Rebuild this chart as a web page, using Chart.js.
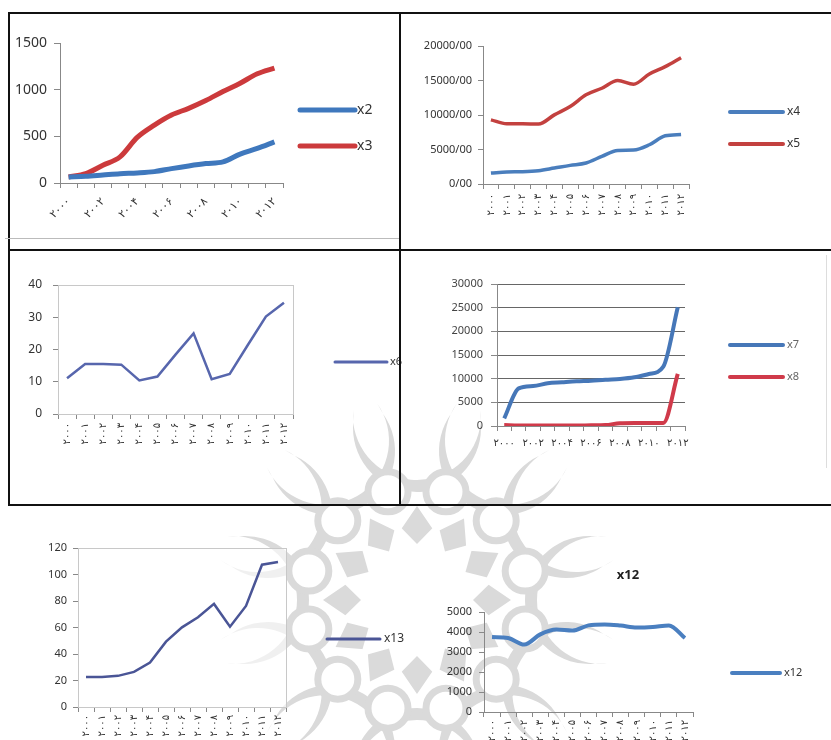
<!DOCTYPE html>
<html>
<head>
<meta charset="utf-8">
<script src="https://cdn.jsdelivr.net/npm/chart.js@4/dist/chart.umd.min.js"></script>
<style>
  body { margin: 0; background: #fff; width: 831px; height: 740px; overflow: hidden; position: relative; }
  canvas { position: absolute; }
  #bg { left: 0; top: 0; z-index: 0; }
  .rule { position: absolute; background: #111; z-index: 5; }
</style>
</head>
<body>
<canvas id="bg" width="831" height="740"></canvas>
<canvas id="c1" width="390" height="222" style="left:9px;top:15px"></canvas>
<canvas id="c2" width="429" height="233" style="left:402px;top:15px"></canvas>
<canvas id="c3" width="400" height="251" style="left:10px;top:252px"></canvas>
<canvas id="c4" width="425" height="250" style="left:402px;top:252px"></canvas>
<canvas id="c5" width="410" height="232" style="left:10px;top:508px"></canvas>
<canvas id="c6" width="411" height="180" style="left:420px;top:560px"></canvas>

<!-- panel frame -->
<div class="rule" style="left:8px;top:12px;width:823px;height:2px"></div>
<div class="rule" style="left:8px;top:12px;width:2px;height:494px"></div>
<div class="rule" style="left:399px;top:12px;width:2px;height:494px"></div>
<div class="rule" style="left:8px;top:249px;width:823px;height:2px"></div>
<div class="rule" style="left:8px;top:504px;width:823px;height:2px"></div>
<div class="rule" style="left:5px;top:238px;width:394px;height:1px;background:#bbb"></div>
<div class="rule" style="left:826px;top:255px;width:1px;height:213px;background:#ddd"></div>

<script>
// Years 2000–2012 in Persian digits
const years = ['۲۰۰۰','۲۰۰۱','۲۰۰۲','۲۰۰۳','۲۰۰۴','۲۰۰۵','۲۰۰۶','۲۰۰۷','۲۰۰۸','۲۰۰۹','۲۰۱۰','۲۰۱۱','۲۰۱۲'];

const x2  = [65, 72, 86, 100, 108, 122, 154, 183, 208, 226, 309, 370, 441];
const x3  = [65, 100, 190, 280, 488, 620, 728, 800, 883, 980, 1069, 1170, 1231];
const x4  = [1590, 1740, 1780, 1930, 2310, 2700, 3040, 4000, 4870, 4920, 5690, 6990, 7180];
const x5  = [9300, 8720, 8720, 8680, 10020, 11230, 12920, 13880, 14990, 14460, 15950, 17010, 18310];
const x6  = [11.1, 15.5, 15.5, 15.3, 10.4, 11.6, 18.4, 25.0, 10.8, 12.4, 21.4, 30.2, 34.5];
const x7  = [1620, 7960, 8450, 9010, 9230, 9440, 9580, 9790, 9930, 10280, 10990, 12540, 25070];
const x8  = [200, 100, 100, 100, 100, 100, 150, 200, 600, 650, 650, 650, 11000];
const x13 = [22.7, 22.7, 23.5, 26.5, 33.6, 49.3, 60.1, 67.7, 77.8, 60.6, 76.3, 107.4, 109.4];
const x12 = [3750, 3700, 3370, 3880, 4120, 4070, 4330, 4380, 4320, 4220, 4250, 4330, 3700];

const FONT = '"Noto Sans", "DejaVu Sans", sans-serif';

// Pale grey rosette emblem behind the lower panels
(function drawEmblem() {
  const ctx = document.getElementById('bg').getContext('2d');
  const cx = 417, cy = 600, N = 12, step = Math.PI * 2 / N;
  const grey = 'rgb(218,218,218)';

  function star(rOut, rIn, rot) {
    ctx.beginPath();
    for (let k = 0; k < N; k++) {
      const a = rot + k * step, b = a + step / 2;
      ctx.lineTo(cx + rOut * Math.cos(a), cy + rOut * Math.sin(a));
      ctx.lineTo(cx + rIn * Math.cos(b), cy + rIn * Math.sin(b));
    }
    ctx.closePath();
    ctx.fill();
  }

  // outer crescents, hollow side facing outwards
  ctx.fillStyle = grey;
  const D = 172, R = 64, d = 12;
  const phi = Math.atan2(Math.sqrt(R * R - (d / 2) * (d / 2)), d / 2);
  for (let k = 0; k < N; k++) {
    const u = -Math.PI / 2 + k * step;
    const px = cx + D * Math.cos(u), py = cy + D * Math.sin(u);
    const qx = px + d * Math.cos(u), qy = py + d * Math.sin(u);
    ctx.beginPath();
    ctx.arc(px, py, R, u + phi, u + 2 * Math.PI - phi);
    ctx.arc(qx, qy, R, u + 2 * Math.PI - phi, u + phi, true);
    ctx.closePath();
    ctx.fill();
  }

  // petalled band round a white star
  ctx.fillStyle = grey;
  star(94, 70, -Math.PI / 2);
  ctx.fillStyle = '#fff';
  star(80, 56, -Math.PI / 2 + step / 2);

  // ring of small circles
  ctx.strokeStyle = grey;
  ctx.lineWidth = 7;
  for (let k = 0; k < N; k++) {
    const a = -Math.PI / 2 + step / 2 + k * step;
    const rx = cx + 112 * Math.cos(a), ry = cy + 112 * Math.sin(a);
    ctx.fillStyle = '#fff';
    ctx.beginPath();
    ctx.arc(rx, ry, 20, 0, Math.PI * 2);
    ctx.fill();
    ctx.stroke();
  }
})();

// Legend drawn beside the plot (one short line and a label per dataset) and an optional title
const sideLegend = {
  id: 'sideLegend',
  afterDraw(chart, args, opts) {
    const ctx = chart.ctx;
    ctx.save();
    if (opts.title) {
      ctx.fillStyle = '#222';
      ctx.font = 'bold 13px ' + FONT;
      ctx.textAlign = 'center';
      ctx.textBaseline = 'middle';
      ctx.fillText(opts.title.text, opts.title.x, opts.title.y);
    }
    chart.data.datasets.forEach((ds, i) => {
      const it = opts.items && opts.items[i];
      if (!it) return;
      ctx.strokeStyle = ds.borderColor;
      ctx.lineWidth = opts.lineWidth || ds.borderWidth;
      ctx.lineCap = 'round';
      ctx.beginPath();
      ctx.moveTo(it.x1, it.y);
      ctx.lineTo(it.x2, it.y);
      ctx.stroke();
      ctx.fillStyle = opts.color || '#333';
      ctx.font = (opts.size || 12) + 'px ' + FONT;
      ctx.textBaseline = 'middle';
      ctx.textAlign = 'left';
      ctx.fillText(ds.label, it.x2 + (opts.gap || 3), it.y);
    });
    ctx.restore();
  }
};

// Plot background (drawn before the grid) and an optional thin frame
const plotBox = {
  id: 'plotBox',
  beforeDraw(chart, args, opts) {
    if (!opts.fill) return;
    const a = chart.chartArea, ctx = chart.ctx;
    ctx.save();
    ctx.fillStyle = opts.fill;
    ctx.fillRect(a.left, a.top, a.right - a.left, a.bottom - a.top);
    ctx.restore();
  },
  beforeDatasetsDraw(chart, args, opts) {
    if (!opts.color) return;
    const a = chart.chartArea, ctx = chart.ctx;
    ctx.save();
    ctx.strokeStyle = opts.color;
    ctx.lineWidth = 1;
    ctx.strokeRect(a.left + 0.5, a.top + 0.5, a.right - a.left, a.bottom - a.top);
    ctx.restore();
  }
};

function makeChart(id, o) {
  return new Chart(document.getElementById(id), {
    type: 'line',
    data: { labels: years, datasets: o.datasets },
    plugins: [sideLegend, plotBox],
    options: {
      responsive: false,
      animation: false,
      layout: { autoPadding: false, padding: o.padding },
      elements: { point: { radius: 0 } },
      plugins: {
        legend: { display: false },
        tooltip: { enabled: false },
        sideLegend: o.legend,
        plotBox: { color: o.box || null, fill: o.fill || null }
      },
      scales: {
        x: {
          type: 'category',
          offset: true,
          grid: { offset: true, drawOnChartArea: false, tickLength: 5, color: o.axisColor || '#888' },
          border: { color: o.axisColor || '#888' },
          ticks: {
            autoSkip: false,
            minRotation: o.xRot, maxRotation: o.xRot,
            padding: o.xPad,
            font: { family: FONT, size: o.xFont },
            color: '#333',
            callback: (v, i) => (o.xEvery ? (i % o.xEvery === 0 ? years[i] : '') : years[i])
          },
          afterFit: s => { s.height = o.xH; }
        },
        y: {
          min: o.yMin, max: o.yMax,
          ticks: {
            stepSize: o.yStep,
            padding: o.yPad,
            font: { family: FONT, size: o.yFont },
            color: o.yColor || '#333',
            callback: o.yFmt || (v => String(v))
          },
          grid: {
            drawOnChartArea: !!o.yGrid,
            color: o.yGrid || '#888',
            tickLength: o.yTick || 5,
            tickColor: o.axisColor || '#888'
          },
          border: { color: o.axisColor || '#888' },
          afterFit: s => { s.width = o.yW; }
        }
      }
    }
  });
}

const BLUE = '#4a7ebd', RED = '#c3413f';
const SMOOTH = { tension: 0.4, cubicInterpolationMode: 'monotone' };

// x2, x3
makeChart('c1', {
  datasets: [
    { label: 'x2', data: x2, borderColor: '#3f78bd', borderWidth: 5, ...SMOOTH },
    { label: 'x3', data: x3, borderColor: '#cc3a3c', borderWidth: 5, ...SMOOTH }
  ],
  padding: { left: 0, right: 116, top: 28, bottom: 2 },
  yW: 51, xH: 52, yMin: 0, yMax: 1500, yStep: 500, yFont: 14, yPad: 7, yTick: 6,
  xRot: 45, xEvery: 2, xFont: 11, xPad: 7,
  legend: { items: [{ x1: 291, x2: 346, y: 95 }, { x1: 291, x2: 346, y: 131 }], size: 14, lineWidth: 5, gap: 2 }
});

// x4, x5
makeChart('c2', {
  datasets: [
    { label: 'x4', data: x4, borderColor: BLUE, borderWidth: 3.5, ...SMOOTH },
    { label: 'x5', data: x5, borderColor: RED, borderWidth: 3.5, ...SMOOTH }
  ],
  padding: { left: 0, right: 142, top: 31, bottom: 6 },
  yW: 81, xH: 58, yMin: 0, yMax: 20000, yStep: 5000, yFont: 11, yPad: 6,
  yFmt: v => v + '/00',
  xRot: 90, xFont: 10, xPad: 5,
  legend: { items: [{ x1: 328, x2: 381, y: 97 }, { x1: 328, x2: 381, y: 129 }], size: 12, lineWidth: 4, gap: 4 }
});

// x6
makeChart('c3', {
  datasets: [
    { label: 'x6', data: x6, borderColor: '#5766ad', borderWidth: 2.5, tension: 0 }
  ],
  padding: { left: 0, right: 117, top: 33, bottom: 4 },
  yW: 48, xH: 85, yMin: 0, yMax: 40, yStep: 10, yFont: 12, yPad: 11,
  xRot: 90, xFont: 10, xPad: 4,
  box: '#c8c8c8', fill: 'rgba(255,255,255,0.85)',
  legend: { items: [{ x1: 325, x2: 377, y: 110 }], size: 11, lineWidth: 3, gap: 3 }
});

// x7, x8
makeChart('c4', {
  datasets: [
    { label: 'x7', data: x7, borderColor: '#4677b8', borderWidth: 4, ...SMOOTH },
    { label: 'x8', data: x8, borderColor: '#d03a4a', borderWidth: 4, ...SMOOTH }
  ],
  padding: { left: 0, right: 142, top: 32, bottom: 6 },
  yW: 95, xH: 70, yMin: 0, yMax: 30000, yStep: 5000, yFont: 11, yPad: 8, yTick: 6,
  yGrid: '#666', yColor: '#444', fill: 'rgba(255,255,255,0.8)',
  xRot: 0, xEvery: 2, xFont: 10, xPad: 6,
  legend: { items: [{ x1: 328, x2: 381, y: 93 }, { x1: 328, x2: 381, y: 125 }], size: 11, lineWidth: 4, gap: 4, color: '#666' }
});

// x13
makeChart('c5', {
  datasets: [
    { label: 'x13', data: x13, borderColor: '#4a5596', borderWidth: 2.5, tension: 0 }
  ],
  padding: { left: 0, right: 134, top: 40, bottom: 0 },
  yW: 68, xH: 33, yMin: 0, yMax: 120, yStep: 20, yFont: 11, yPad: 6,
  xRot: 90, xFont: 10, xPad: 3,
  box: '#c8c8c8', fill: 'rgba(255,255,255,0.6)',
  legend: { items: [{ x1: 317, x2: 370, y: 131 }], size: 12, lineWidth: 3, gap: 4 }
});

// x12
makeChart('c6', {
  datasets: [
    { label: 'x12', data: x12, borderColor: '#4a7fc0', borderWidth: 4, ...SMOOTH }
  ],
  padding: { left: 0, right: 138, top: 52, bottom: 0 },
  yW: 64, xH: 28, yMin: 0, yMax: 5000, yStep: 1000, yFont: 11, yPad: 7,
  xRot: 90, xFont: 10, xPad: 3,
  legend: { title: { text: 'x12', x: 208, y: 15 }, items: [{ x1: 312, x2: 360, y: 113 }], size: 11, lineWidth: 4, gap: 4 }
});
</script>
</body>
</html>
